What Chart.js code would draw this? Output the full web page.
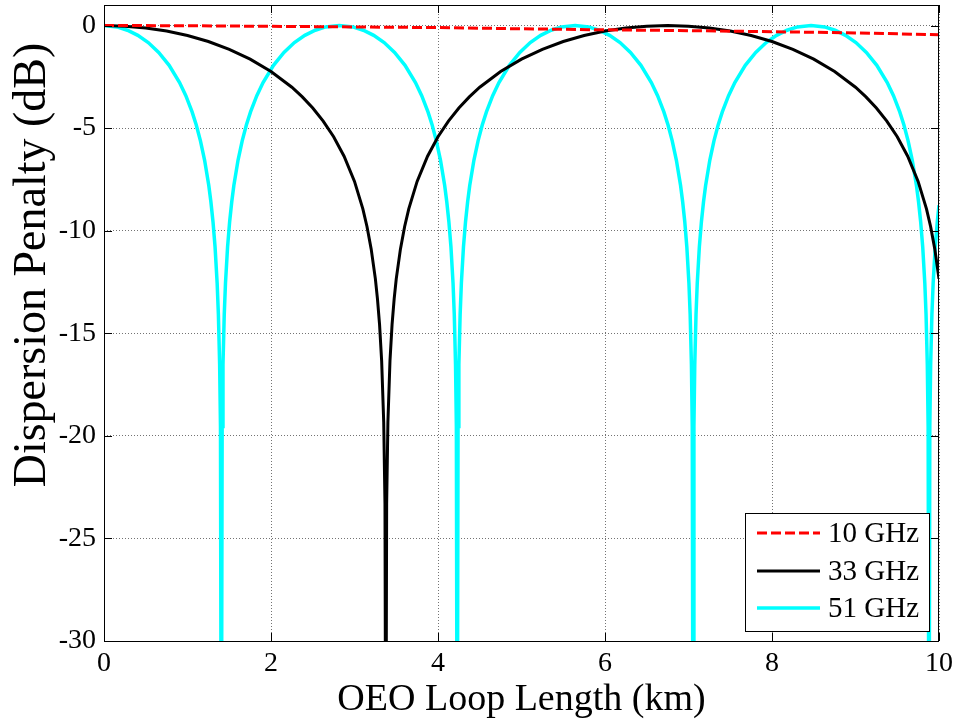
<!DOCTYPE html>
<html>
<head>
  <meta charset="UTF-8">
  <title>Dispersion Penalty</title>
  <style>
    html, body {
      margin: 0;
      padding: 0;
      background-color: #fff;
      overflow: hidden;
    }

    .grafica-container {
      position: relative;
      width: 959px;
      height: 723px;
    }
  </style>
</head>
<body>
  <div class="grafica-container">
    <canvas id="grafica"></canvas>
  </div>

  <script src="https://cdn.jsdelivr.net/npm/chart.js"></script>
  <script>
    // valores (km, dB)
    var seriesNames = ['10 GHz', '33 GHz', '51 GHz'];

    var length10 = [0, 1, 2, 3, 4, 5, 6, 7, 8, 9, 10];
    var penalty10 = [0, -0.01, -0.04, -0.07, -0.1, -0.16, -0.21, -0.25, -0.3, -0.36, -0.45];

    var length33 = [0, 0.25, 0.5, 0.75, 1, 1.25, 1.5, 1.75, 2, 2.25, 2.375, 2.5, 2.625, 2.75, 2.875,
      3, 3.1, 3.15, 3.2, 3.25, 3.275, 3.3, 3.325, 3.35, 3.365, 3.375, 3.385, 3.4, 3.425, 3.45, 3.475, 3.5, 3.55, 3.6, 3.65, 3.75,
      3.875, 4, 4.125, 4.25, 4.375, 4.5, 4.75, 5, 5.25, 5.5, 5.75, 6, 6.25, 6.5, 6.75,
      7, 7.25, 7.5, 7.75, 8, 8.25, 8.5, 8.75, 9, 9.125, 9.25, 9.375, 9.5, 9.625, 9.75, 9.85, 9.9, 9.95, 10];
    var penalty33 = [0, -0.03, -0.12, -0.27, -0.49, -0.78, -1.16, -1.64, -2.24, -3.01, -3.48, -4.02, -4.66, -5.42, -6.37,
      -7.6, -8.94, -9.81, -10.9, -12.35, -13.32, -14.57, -16.33, -19.34, -23.32, -40, -23.32, -19.34, -16.33, -14.57, -13.32, -12.35, -10.9, -9.81, -8.94, -7.6,
      -6.37, -5.42, -4.66, -4.02, -3.48, -3.01, -2.24, -1.64, -1.16, -0.78, -0.49, -0.27, -0.12, -0.03, 0,
      -0.03, -0.12, -0.27, -0.49, -0.78, -1.16, -1.64, -2.24, -3.01, -3.48, -4.02, -4.66, -5.42, -6.37, -7.6, -8.94, -9.81, -10.9, -12.35];

    var length51 = [0,
      0.155, 0.28, 0.405, 0.53, 0.655, 0.78, 0.905, 0.98, 1.055, 1.105, 1.155, 1.205, 1.255, 1.28, 1.305, 1.33, 1.355, 1.37, 1.385, 1.395,
      1.405,
      1.415, 1.425, 1.44, 1.455, 1.48, 1.505, 1.53, 1.555, 1.605, 1.655, 1.705, 1.755, 1.83, 1.905, 2.03, 2.155, 2.28, 2.405, 2.53, 2.655,
      2.818,
      2.98, 3.105, 3.23, 3.355, 3.48, 3.605, 3.73, 3.805, 3.88, 3.93, 3.98, 4.03, 4.08, 4.105, 4.13, 4.155, 4.18, 4.195, 4.21, 4.22,
      4.23,
      4.24, 4.25, 4.265, 4.28, 4.305, 4.33, 4.355, 4.38, 4.43, 4.48, 4.53, 4.58, 4.655, 4.73, 4.855, 4.98, 5.105, 5.23, 5.355, 5.48,
      5.643,
      5.805, 5.93, 6.055, 6.18, 6.305, 6.43, 6.555, 6.63, 6.705, 6.755, 6.805, 6.855, 6.905, 6.93, 6.955, 6.98, 7.005, 7.02, 7.035, 7.045,
      7.055,
      7.065, 7.075, 7.09, 7.105, 7.13, 7.155, 7.18, 7.205, 7.255, 7.305, 7.355, 7.405, 7.48, 7.555, 7.68, 7.805, 7.93, 8.055, 8.18, 8.305,
      8.468,
      8.63, 8.755, 8.88, 9.005, 9.13, 9.255, 9.38, 9.455, 9.53, 9.58, 9.63, 9.68, 9.73, 9.755, 9.78, 9.805, 9.83, 9.845, 9.86, 9.87,
      9.88,
      9.89, 9.9, 9.915, 9.93, 9.955, 9.98, 10];
    var penalty51 = [0,
      -0.07, -0.23, -0.48, -0.83, -1.31, -1.94, -2.78, -3.42, -4.21, -4.85, -5.62, -6.57, -7.8, -8.59, -9.55, -10.79, -12.55, -14.1, -16.53, -19.54,
      -40,
      -19.54, -16.53, -14.1, -12.55, -10.79, -9.55, -8.59, -7.8, -6.57, -5.62, -4.85, -4.21, -3.42, -2.78, -1.94, -1.31, -0.83, -0.48, -0.23, -0.07,
      0,
      -0.07, -0.23, -0.48, -0.83, -1.31, -1.94, -2.78, -3.42, -4.21, -4.85, -5.62, -6.57, -7.8, -8.59, -9.55, -10.79, -12.55, -14.1, -16.53, -19.54,
      -40,
      -19.54, -16.53, -14.1, -12.55, -10.79, -9.55, -8.59, -7.8, -6.57, -5.62, -4.85, -4.21, -3.42, -2.78, -1.94, -1.31, -0.83, -0.48, -0.23, -0.07,
      0,
      -0.07, -0.23, -0.48, -0.83, -1.31, -1.94, -2.78, -3.42, -4.21, -4.85, -5.62, -6.57, -7.8, -8.59, -9.55, -10.79, -12.55, -14.1, -16.53, -19.54,
      -40,
      -19.54, -16.53, -14.1, -12.55, -10.79, -9.55, -8.59, -7.8, -6.57, -5.62, -4.85, -4.21, -3.42, -2.78, -1.94, -1.31, -0.83, -0.48, -0.23, -0.07,
      0,
      -0.07, -0.23, -0.48, -0.83, -1.31, -1.94, -2.78, -3.42, -4.21, -4.85, -5.62, -6.57, -7.8, -8.59, -9.55, -10.79, -12.55, -14.1, -16.53, -19.54,
      -40,
      -19.54, -16.53, -14.1, -12.55, -10.79, -9.55, -8.76];

    var xTicks = [0, 2, 4, 6, 8, 10];
    var yTicks = [-30, -25, -20, -15, -10, -5, 0];

    function puntos(xs, ys) {
      return xs.map(function (x, i) { return { x: x, y: ys[i] }; });
    }

    var serif = '"Liberation Serif", "Times New Roman", serif';

    // caja de ejes, marcas interiores, titulos y leyenda estilo MATLAB
    var marco = {
      id: 'marco',
      afterDatasetsDraw: function (chart) {
        var ctx = chart.ctx;
        var a = chart.chartArea;
        var sx = chart.scales.x;
        var sy = chart.scales.y;

        ctx.save();
        ctx.strokeStyle = '#000';
        ctx.lineWidth = 1;
        ctx.strokeRect(a.left + 0.5, a.top + 0.5, a.right - a.left - 1, a.bottom - a.top);

        ctx.beginPath();
        xTicks.forEach(function (v) {
          var px = Math.round(sx.getPixelForValue(v)) + 0.5;
          ctx.moveTo(px, a.bottom); ctx.lineTo(px, a.bottom - 8);
          ctx.moveTo(px, a.top); ctx.lineTo(px, a.top + 8);
        });
        yTicks.forEach(function (v) {
          var py = Math.round(sy.getPixelForValue(v)) + 0.5;
          ctx.moveTo(a.left, py); ctx.lineTo(a.left + 8, py);
          ctx.moveTo(a.right, py); ctx.lineTo(a.right - 8, py);
        });
        ctx.stroke();

        // titulos
        ctx.fillStyle = '#000';
        ctx.font = '38px ' + serif;
        ctx.textAlign = 'center';
        ctx.textBaseline = 'alphabetic';
        ctx.fillText('OEO Loop Length (km)', (a.left + a.right) / 2, 710);

        ctx.save();
        ctx.translate(33, 265);
        ctx.rotate(-Math.PI / 2);
        ctx.textBaseline = 'middle';
        ctx.font = '46px ' + serif;
        ctx.fillText('Dispersion Penalty (dB)', 0, 0);
        ctx.restore();

        // leyenda
        var w = 184, h = 118;
        var lx = a.right - 10 - w;
        var ly = a.bottom - 10 - h;
        ctx.fillStyle = '#fff';
        ctx.fillRect(lx, ly, w, h);
        ctx.strokeStyle = '#000';
        ctx.lineWidth = 1;
        ctx.strokeRect(lx + 0.5, ly + 0.5, w, h);

        var filas = [20, 58, 95];
        chart.data.datasets.forEach(function (ds, i) {
          var yy = ly + filas[i];
          ctx.beginPath();
          ctx.strokeStyle = ds.borderColor;
          ctx.lineWidth = ds.borderWidth;
          ctx.setLineDash(ds.borderDash || []);
          ctx.moveTo(lx + 12, yy);
          ctx.lineTo(lx + 75, yy);
          ctx.stroke();
          ctx.setLineDash([]);
          ctx.fillStyle = '#000';
          ctx.font = '29px ' + serif;
          ctx.textAlign = 'left';
          ctx.textBaseline = 'middle';
          ctx.fillText(ds.label, lx + 83, yy + 1);
        });
        ctx.restore();
      }
    };

    var canvas = document.getElementById('grafica');
    var ctx = canvas.getContext('2d');

    var myChart = new Chart(ctx, {
      type: 'line',
      data: {
        datasets: [{
          label: seriesNames[0],
          data: puntos(length10, penalty10),
          borderColor: '#ff0000',
          borderWidth: 3,
          borderDash: [10, 4]
        }, {
          label: seriesNames[1],
          data: puntos(length33, penalty33),
          borderColor: '#000000',
          borderWidth: 3
        }, {
          label: seriesNames[2],
          data: puntos(length51, penalty51),
          borderColor: '#00ffff',
          borderWidth: 3.5
        }]
      },
      options: {
        responsive: true,
        maintainAspectRatio: false,
        animation: false,
        layout: {
          padding: { top: 5, right: 19, bottom: 0, left: 0 }
        },
        elements: {
          point: { radius: 0 },
          line: { tension: 0 }
        },
        plugins: {
          legend: { display: false },
          tooltip: { enabled: false }
        },
        scales: {
          x: {
            type: 'linear',
            min: 0,
            max: 10,
            afterBuildTicks: function (axis) {
              axis.ticks = xTicks.map(function (v) { return { value: v }; });
            },
            afterFit: function (axis) {
              axis.height = 82;
            },
            ticks: {
              autoSkip: false,
              maxRotation: 0,
              padding: 6,
              color: '#000',
              font: { family: serif, size: 28 }
            },
            grid: {
              color: 'rgba(0, 0, 0, 0.55)',
              lineWidth: 1,
              drawTicks: false
            },
            border: { display: false, dash: [1, 2] }
          },
          y: {
            min: -30,
            max: 1,
            afterBuildTicks: function (axis) {
              axis.ticks = yTicks.map(function (v) { return { value: v }; });
            },
            afterFit: function (axis) {
              axis.width = 104;
              axis.paddingTop = 0;
              axis.paddingBottom = 0;
            },
            ticks: {
              padding: 8,
              color: '#000',
              font: { family: serif, size: 28 }
            },
            grid: {
              color: 'rgba(0, 0, 0, 0.55)',
              lineWidth: 1,
              drawTicks: false
            },
            border: { display: false, dash: [1, 2] }
          }
        }
      },
      plugins: [marco]
    });
  </script>
</body>
</html>
